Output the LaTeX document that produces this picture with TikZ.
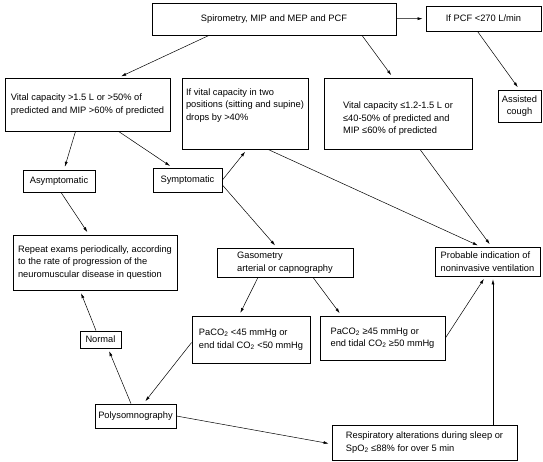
\documentclass[tikz,border=0pt]{standalone}
\usepackage{fontspec}
\setmainfont{Liberation Sans}
\usetikzlibrary{calc}
\usetikzlibrary{arrows.meta}

\begin{document}
\begin{tikzpicture}[x=1pt,y=-1pt,
  box/.style={draw,line width=0.8pt,inner sep=2pt,align=left,font=\fontsize{9.3}{12.5}\selectfont},
  txt/.style={inner sep=2pt,align=left,font=\fontsize{9.3}{12.5}\selectfont},
  arr/.style={-{Latex[length=5pt,width=3pt]},line width=0.5pt,shorten >=3pt}]
\useasboundingbox (0,0) rectangle (543,461);

\node[box,align=center,minimum width=244pt,minimum height=32pt] (spiro) at (274,19) {Spirometry, MIP and MEP and PCF};
\node[box,minimum width=115pt,minimum height=25pt] (pcf) at (483.5,18.5) {If PCF <270 L/min};
\node[box,align=center,minimum width=43pt,minimum height=32pt] (cough) at (519.5,106) {Assisted\\cough};

\node[box,minimum width=165pt,minimum height=53pt] (vca) at (87.5,104.5) {Vital capacity >1.5 L or >50\% of\\predicted and MIP >60\% of predicted};
\node[box,minimum width=126pt,minimum height=71pt] (vcb) at (245,113.5) {};
\node[txt] (vcbtext) at (245,105.5) {If vital capacity in two\\positions (sitting and supine)\\drops by >40\%};
\node[box,minimum width=148pt,minimum height=71pt] (vcc) at (398,113.5) {};
\node[txt] (vcctext) at (398,119) {Vital capacity ≤1.2-1.5 L or\\≤40-50\% of predicted and\\MIP ≤60\% of predicted};

\node[box,minimum width=72pt,minimum height=22pt] (asym) at (59,181) {Asymptomatic};
\node[box,minimum width=69pt,minimum height=24pt] (sym) at (187.5,180) {Symptomatic};

\node[box,minimum width=164pt,minimum height=55pt] (rep) at (95,262.5) {Repeat exams periodically, according\\to the rate of progression of the\\neuromuscular disease in question};
\node[box,minimum width=136pt,minimum height=29pt] (gas) at (285,262.5) {Gasometry\\arterial or capnography};
\node[box,minimum width=105pt,minimum height=29pt] (prob) at (487.5,261.5) {Probable indication of\\noninvasive ventilation};

\node[box,minimum width=41pt,minimum height=17pt] (norm) at (100.5,339.5) {Normal};
\node[box,minimum width=118pt,minimum height=47pt] (pa1) at (251,339.5) {PaCO\textsubscript{2} <45 mmHg or\\end tidal CO\textsubscript{2} <50 mmHg};
\node[box,minimum width=125pt,minimum height=44pt] (pa2) at (382.5,338) {PaCO\textsubscript{2} ≥45 mmHg or\\end tidal CO\textsubscript{2} ≥50 mmHg};

\node[box,minimum width=81pt,minimum height=24pt] (poly) at (135.5,416) {Polysomnography};
\node[box,minimum width=185pt,minimum height=35pt] (resp) at (424.5,442.5) {Respiratory alterations during sleep or\\SpO\textsubscript{2} ≤88\% for over 5 min};

\draw[arr] ($(spiro.south)+(-65,0)$) -- ($(vca.north)+(31,0)$);
\draw[arr] ($(spiro.south)+(88,0)$) -- ($(vcc.north)+(-5,0)$);
\draw[arr] (spiro) -- (pcf);
\draw[arr] ($(pcf.south)+(-6,0)$) -- (cough.north);
\draw[arr] ($(vca.south)+(-12,0)$) -- ($(asym.north)+(5,0)$);
\draw[arr] ($(vca.south)+(31,0)$) -- ($(sym.north)+(-15,0)$);
\draw[arr] (sym.east) -- ($(vcb.south)+(2,0)$);
\draw[arr] ($(vcb.south)+(23,0)$) -- ($(prob.north)+(-7,0)$);
\draw[arr] ($(vcc.south)+(22,0)$) -- ($(prob.north)+(4,0)$);
\draw[arr] ($(asym.south)+(2,0)$) -- ($(rep.north)+(-6,0)$);
\draw[arr] ($(sym.east)+(0,5)$) -- ($(gas.north)+(-8,0)$);
\draw[arr] ($(gas.south)+(-27,0)$) -- ($(pa1.north)+(-12,0)$);
\draw[arr] ($(gas.south)+(28,0)$) -- ($(pa2.north)+(-41,0)$);
\draw[arr] ($(pa1.west)+(0,3)$) -- ($(poly.north)+(8,0)$);
\draw[arr] (pa2.east) -- ($(prob.south)+(-2,0)$);
\coordinate (rup) at ($(resp.north)+(68.5,0)$);
\draw[arr] (rup) -- (rup |- prob.south);
\draw[arr] ($(poly.north)+(-4.5,0)$) -- ($(norm.south)+(7.5,0)$);
\draw[arr] ($(norm.north)+(-4.5,0)$) -- ($(rep.south)+(-15,0)$);
\draw[arr] (poly.east) -- ($(resp.west)+(0,1.5)$);
\end{tikzpicture}
\end{document}
